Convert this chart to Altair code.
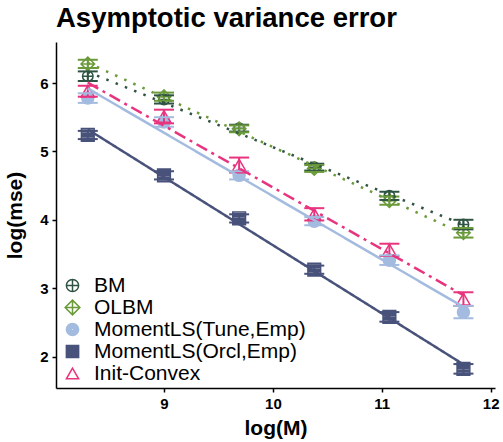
import altair as alt
import pandas as pd

# ---- data ----
series_names = ["BM", "OLBM", "MomentLS(Tune,Emp)", "MomentLS(Orcl,Emp)", "Init-Convex"]
log_m = [8.30, 9.00, 9.69, 10.38, 11.07, 11.75]

bm_vals = [6.10, 5.76, 5.34, 4.77, 4.35, 3.93]
olbm_vals = [6.28, 5.80, 5.33, 4.75, 4.28, 3.81]
tune_vals = [5.78, 5.43, 4.65, 3.98, 3.41, 2.65]
orcl_vals = [5.24, 4.65, 4.02, 3.27, 2.58, 1.82]
init_vals = [5.88, 5.51, 4.80, 4.08, 3.56, 2.84]

bm_err = [0.07, 0.06, 0.05, 0.05, 0.06, 0.07]
olbm_err = [0.06, 0.06, 0.05, 0.05, 0.06, 0.07]
tune_err = [0.07, 0.07, 0.06, 0.06, 0.07, 0.09]
orcl_err = [0.06, 0.06, 0.06, 0.06, 0.07, 0.07]
init_err = [0.08, 0.10, 0.11, 0.09, 0.09, 0.10]

x_ticks = [9, 10, 11, 12]
y_ticks = [2, 3, 4, 5, 6]

colors = ["#2f5443", "#6a9a3a", "#a4bbe0", "#48527a", "#e8347e"]


def _ring(r):
    return f"M{-r},0A{r},{r} 0 1,1 {r},0A{r},{r} 0 1,1 {-r},0Z"


# solid-looking symbols drawn as dense strokes (so the legend matches too)
filled_circle = "".join(_ring(r) for r in [1.0, 0.8, 0.6, 0.4, 0.2, 0.05])
filled_square = "M-1,-1L1,-1L1,1L-1,1Z" + "".join(
    f"M-1,{v}L1,{v}" for v in [-0.75, -0.5, -0.25, 0, 0.25, 0.5, 0.75]
)
shapes = [
    _ring(1) + "M-1,0L1,0M0,-1L0,1",
    "M0,-1.2L1.2,0L0,1.2L-1.2,0ZM-1.2,0L1.2,0M0,-1.2L0,1.2",
    filled_circle,
    filled_square,
    "triangle-up",
]
sizes = [160, 160, 160, 110, 180]
dashes = [[2.5, 7.5], [2.5, 7.5], [1, 0], [1, 0], [12, 5, 3, 5]]

rows = []
for name, vals, errs in zip(
    series_names,
    [bm_vals, olbm_vals, tune_vals, orcl_vals, init_vals],
    [bm_err, olbm_err, tune_err, orcl_err, init_err],
):
    for xv, yv, ev in zip(log_m, vals, errs):
        rows.append({"series": name, "x": xv, "y": yv, "err": ev})
df = pd.DataFrame(rows)

font = "Liberation Sans"
xscale = alt.Scale(domain=[8.008, 12.04], nice=False, zero=False)
yscale = alt.Scale(domain=[1.54, 6.6], nice=False, zero=False)
cscale = alt.Scale(domain=series_names, range=colors)
# same mapping, listed in reverse order so its (hidden) guide stays separate
rev_names = series_names[::-1]
sscale = alt.Scale(domain=rev_names, range=colors[::-1])
dscale = alt.Scale(domain=rev_names, range=dashes[::-1])

legend = alt.Legend(
    title=None,
    orient="none",
    legendX=6,
    legendY=233,
    labelFont=font,
    labelFontSize=21,
    labelColor="black",
    labelOffset=11,
    labelLimit=0,
    symbolSize=150,
    symbolStrokeWidth=1.5,
    rowPadding=0,
    padding=0,
)

X = alt.X("x:Q", scale=xscale, title="log(M)",
          axis=alt.Axis(values=x_ticks, format="d"))
Y = alt.Y("y:Q", scale=yscale, title="log(mse)",
          axis=alt.Axis(values=y_ticks, format="d"))

base = alt.Chart(df)

points = base.mark_point(strokeWidth=1.5, opacity=1, filled=False).encode(
    x=X,
    y=Y,
    color=alt.Color("series:N", scale=cscale, legend=legend),
    shape=alt.Shape("series:N", scale=alt.Scale(domain=series_names, range=shapes),
                    legend=legend),
    size=alt.Size("series:N", scale=alt.Scale(domain=rev_names, range=sizes[::-1]),
                  legend=None),
)

STROKE = alt.Stroke("series:N", scale=sscale, legend=None)

lines = base.transform_regression(
    "x", "y", groupby=["series"]
).mark_line(strokeWidth=2.5).encode(
    x=alt.X("x:Q", scale=xscale),
    y=alt.Y("y:Q", scale=yscale),
    stroke=STROKE,
    strokeDash=alt.StrokeDash("series:N", scale=dscale, legend=None),
)

err_base = base.transform_calculate(
    lo="datum.y - datum.err", hi="datum.y + datum.err"
)
err_rule = err_base.mark_rule(strokeWidth=2).encode(
    x=alt.X("x:Q", scale=xscale),
    y=alt.Y("lo:Q", scale=yscale),
    y2="hi:Q",
    stroke=STROKE,
)
cap_lo = err_base.mark_rule(strokeWidth=2, xOffset=-10, x2Offset=10).encode(
    x=alt.X("x:Q", scale=xscale),
    x2="x:Q",
    y=alt.Y("lo:Q", scale=yscale),
    stroke=STROKE,
)
cap_hi = err_base.mark_rule(strokeWidth=2, xOffset=-10, x2Offset=10).encode(
    x=alt.X("x:Q", scale=xscale),
    x2="x:Q",
    y=alt.Y("hi:Q", scale=yscale),
    stroke=STROKE,
)

chart = alt.layer(points, err_rule, cap_lo, cap_hi, lines).properties(
    width=439,
    height=346,
    autosize=alt.AutoSizeParams(type="none"),
    padding={"left": 56, "top": 42, "right": 8, "bottom": 54},
    title=alt.TitleParams(
        "Asymptotic variance error",
        anchor="start",
        frame="group",
        font=font,
        fontSize=27.5,
        fontWeight="bold",
        color="black",
        offset=10,
    ),
).configure_view(stroke=None).configure_axis(
    grid=False,
    domainColor="black",
    domainWidth=1.5,
    tickColor="black",
    tickWidth=1.5,
    tickSize=4,
    labelFont=font,
    labelFontSize=15,
    labelFontWeight="bold",
    labelColor="black",
    labelPadding=4,
    titleFont=font,
    titleFontSize=21,
    titleFontWeight="bold",
    titleColor="black",
).configure_axisY(titlePadding=14).configure_axisX(titlePadding=6)

chart.save("out.html", embed_options={"renderer": "svg", "actions": False})
